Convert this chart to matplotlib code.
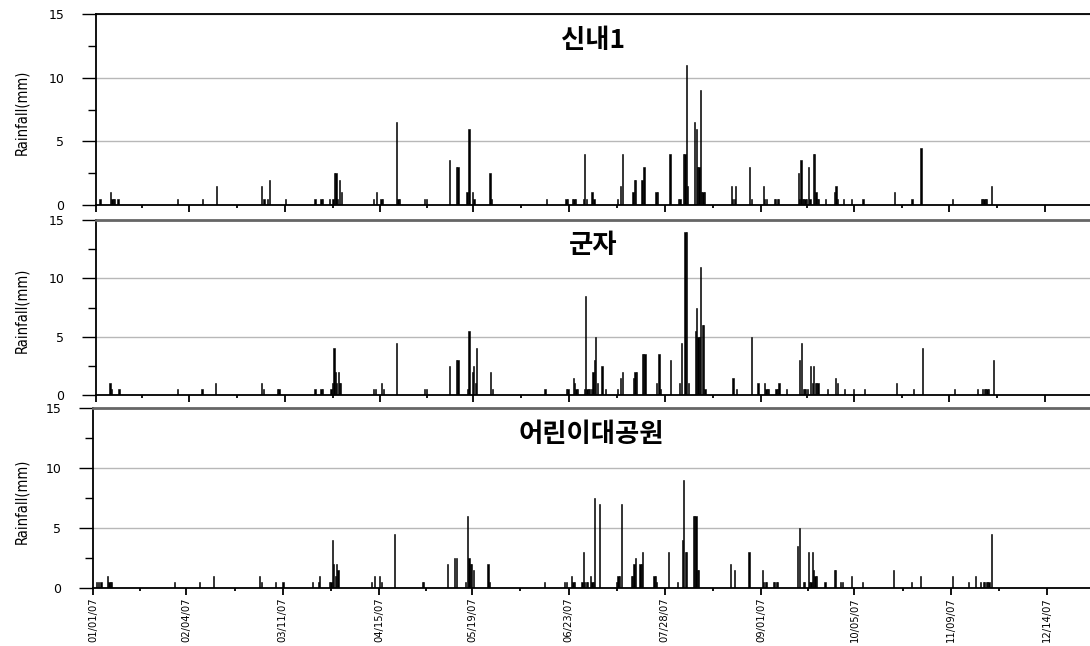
import numpy as np
import matplotlib
matplotlib.use('Agg')
import matplotlib.pyplot as plt
from matplotlib import font_manager
from matplotlib.font_manager import FontProperties
from matplotlib.ticker import FixedLocator

# 관측소 이름
stations = ['신내1', '군자', '어린이대공원']

# 날짜축 눈금 (2007년)
tick_labels = ['01/01/07', '02/04/07', '03/11/07', '04/15/07', '05/19/07', '06/23/07',
               '07/28/07', '09/01/07', '10/05/07', '11/09/07', '12/14/07']
tick_days = [0, 34, 69, 104, 138, 173, 208, 243, 277, 312, 347]   # 1월 1일부터 일수

# 신내1 : 시각(1월1일부터 일수) / 강우량(mm)
sinnae_day = [1.2, 5.1, 5.6, 6.1, 6.6, 7.8, 29.6, 38.8, 43.9, 60.4, 61.2, 62.6, 63.3, 69.1,
              79.8, 82.0, 82.5, 85.2, 86.4, 87.0, 87.5, 88.2, 88.8, 89.5, 101.2, 102.4, 104.0,
              104.5, 109.7, 110.2, 110.7, 120.0, 120.5, 129.1, 131.6, 132.1, 135.4, 136.1, 137.4,
              138.0, 143.8, 144.4, 164.5, 171.6, 172.1, 174.0, 174.5, 175.0, 178.0, 178.5, 179.0,
              181.1, 181.8, 190.4, 191.6, 192.3, 196.1, 196.6, 197.1, 199.4, 200.1, 204.5, 205.0,
              209.6, 212.8, 213.3, 214.6, 215.1, 215.6, 216.1, 218.7, 219.2, 219.7, 220.2, 220.7,
              221.2, 221.7, 222.2, 232.1, 232.6, 233.1, 233.6, 238.8, 239.3, 243.8, 244.3, 244.8,
              247.8, 248.3, 248.8, 249.3, 256.5, 257.0, 257.5, 258.0, 258.5, 259.0, 259.5, 260.3,
              260.8, 262.0, 262.5, 263.0, 263.5, 264.0, 266.5, 269.7, 270.3, 270.8, 273.0, 276.1,
              280.2, 291.8, 298.1, 301.4, 313.0, 323.4, 323.9, 324.4, 324.9, 325.4, 327.1]
sinnae_mm = [0.5, 1.0, 0.5, 0.5, 0.5, 0.5, 0.5, 0.5, 1.5, 1.5, 0.5, 0.5, 2.0, 0.5,
             0.5, 0.5, 0.5, 0.5, 0.5, 2.5, 2.5, 0.5, 2.0, 1.0, 0.5, 1.0, 0.5,
             0.5, 6.5, 0.5, 0.5, 0.5, 0.5, 3.5, 3.0, 3.0, 1.0, 6.0, 1.0,
             0.5, 2.5, 0.5, 0.5, 0.5, 0.5, 0.5, 0.5, 0.5, 0.5, 4.0, 0.5,
             1.0, 0.5, 0.5, 1.5, 4.0, 1.0, 2.0, 2.0, 2.0, 3.0, 1.0, 1.0,
             4.0, 0.5, 0.5, 4.0, 4.0, 11.0, 1.5, 6.5, 6.0, 3.0, 3.0, 9.0,
             1.0, 1.0, 1.0, 1.5, 0.5, 0.5, 1.5, 3.0, 0.5, 1.5, 0.5, 0.5,
             0.5, 0.5, 0.5, 0.5, 2.5, 0.5, 3.5, 0.5, 0.5, 0.5, 0.5, 3.0,
             0.5, 4.0, 4.0, 1.0, 0.5, 0.5, 0.5, 1.0, 1.5, 0.5, 0.5, 0.5,
             0.5, 1.0, 0.5, 4.5, 0.5, 0.5, 0.5, 0.5, 0.5, 0.5, 1.5]

# 군자
gunja_day = [4.9, 5.5, 8.2, 29.5, 38.5, 43.6, 60.4, 61.1, 66.2, 66.7, 79.8, 82.0, 82.5, 85.7,
             86.3, 86.8, 87.3, 87.8, 88.3, 88.8, 89.3, 101.2, 102.0, 104.2, 105.0, 109.7, 120.0,
             120.5, 129.1, 131.6, 132.1, 135.5, 136.1, 137.4, 137.9, 138.4, 138.9, 144.1, 144.6,
             163.9, 171.8, 172.3, 174.3, 174.8, 175.3, 175.8, 178.3, 178.8, 179.3, 179.8, 180.3,
             181.0, 181.5, 182.0, 182.5, 183.0, 184.8, 186.1, 190.4, 191.6, 192.4, 196.3, 196.8,
             197.3, 199.5, 200.0, 200.5, 204.7, 205.6, 206.1, 209.9, 213.1, 213.9, 215.1, 215.6,
             216.4, 218.9, 219.4, 219.9, 220.4, 220.9, 221.4, 221.9, 222.4, 232.7, 233.9, 239.4,
             241.8, 244.2, 244.7, 245.2, 245.7, 248.4, 248.9, 249.5, 252.1, 257.1, 257.6, 258.3,
             258.8, 259.3, 259.8, 261.1, 261.6, 262.2, 262.7, 263.2, 263.7, 267.1, 270.2, 270.8,
             273.5, 276.7, 280.6, 292.4, 298.6, 301.9, 313.5, 322.0, 323.8, 324.5, 325.0, 325.5,
             326.0, 327.8]
gunja_mm = [1.0, 0.5, 0.5, 0.5, 0.5, 1.0, 1.0, 0.5, 0.5, 0.5, 0.5, 0.5, 0.5, 0.5,
            1.0, 4.0, 2.0, 1.0, 2.0, 1.0, 1.0, 0.5, 0.5, 1.0, 0.5, 4.5, 0.5,
            0.5, 2.5, 3.0, 3.0, 0.5, 5.5, 2.0, 2.5, 1.0, 4.0, 2.0, 0.5,
            0.5, 0.5, 0.5, 1.5, 1.0, 0.5, 0.5, 0.5, 8.5, 0.5, 0.5, 0.5,
            0.5, 2.0, 3.0, 5.0, 1.0, 2.5, 0.5, 0.5, 1.5, 2.0, 1.5, 2.0,
            2.0, 3.5, 3.5, 3.5, 1.0, 3.5, 0.5, 3.0, 1.0, 4.5, 14.0, 14.0,
            1.0, 5.5, 7.5, 5.0, 5.0, 11.0, 6.0, 6.0, 0.5, 1.5, 0.5, 5.0,
            1.0, 1.0, 0.5, 0.5, 0.5, 0.5, 0.5, 1.0, 0.5, 3.0, 4.5, 0.5,
            0.5, 0.5, 0.5, 2.5, 1.0, 2.5, 1.0, 1.0, 1.0, 0.5, 1.5, 1.0,
            0.5, 0.5, 0.5, 1.0, 0.5, 4.0, 0.5, 0.5, 0.5, 0.5, 0.5, 0.5,
            0.5, 3.0]

# 어린이대공원
park_day = [1.0, 1.8, 2.7, 5.1, 5.6, 6.1, 6.6, 29.5, 38.6, 43.7, 60.4, 61.0, 66.2, 68.9,
            79.7, 81.7, 82.2, 85.9, 86.4, 86.9, 87.4, 87.9, 88.4, 88.9, 101.0, 102.3, 104.1,
            104.7, 109.5, 119.6, 120.1, 128.8, 131.4, 131.9, 135.4, 135.9, 136.6, 137.1, 137.6,
            138.1, 143.5, 144.0, 164.1, 171.4, 171.9, 173.8, 174.4, 174.9, 177.7, 178.2, 178.7,
            179.2, 179.7, 180.8, 181.3, 181.8, 182.3, 184.1, 190.1, 190.8, 191.3, 191.9, 195.6,
            196.1, 196.6, 197.1, 198.8, 199.3, 199.8, 203.9, 204.4, 204.9, 209.2, 212.4, 214.2,
            214.7, 215.2, 215.7, 218.1, 218.6, 219.1, 219.6, 220.1, 231.7, 233.1, 238.4, 243.3,
            243.8, 244.3, 244.8, 247.3, 247.8, 248.3, 248.8, 256.2, 256.9, 258.2, 258.7, 260.0,
            260.5, 261.0, 261.4, 261.9, 262.4, 262.9, 266.1, 269.4, 269.9, 271.8, 272.3, 275.6,
            279.7, 291.1, 297.6, 300.8, 312.4, 318.2, 320.9, 322.7, 323.7, 324.2, 324.7, 325.2,
            325.7, 326.6]
park_mm = [0.5, 0.5, 0.5, 1.0, 0.5, 0.5, 0.5, 0.5, 0.5, 1.0, 1.0, 0.5, 0.5, 0.5,
           0.5, 0.5, 1.0, 0.5, 0.5, 4.0, 2.0, 1.0, 2.0, 1.5, 0.5, 1.0, 1.0,
           0.5, 4.5, 0.5, 0.5, 2.0, 2.5, 2.5, 0.5, 6.0, 2.5, 2.0, 2.0,
           1.5, 2.0, 0.5, 0.5, 0.5, 0.5, 1.0, 0.5, 0.5, 0.5, 3.0, 0.5,
           0.5, 0.5, 1.0, 0.5, 0.5, 7.5, 7.0, 0.5, 1.0, 1.0, 7.0, 1.0,
           1.0, 2.0, 2.5, 2.0, 2.0, 3.0, 1.0, 1.0, 0.5, 3.0, 0.5, 4.0,
           9.0, 3.0, 3.0, 6.0, 6.0, 6.0, 1.5, 1.5, 2.0, 1.5, 3.0, 1.5,
           0.5, 0.5, 0.5, 0.5, 0.5, 0.5, 0.5, 3.5, 5.0, 0.5, 0.5, 3.0,
           0.5, 0.5, 3.0, 1.5, 1.0, 1.0, 0.5, 1.5, 1.5, 0.5, 0.5, 1.0,
           0.5, 1.5, 0.5, 1.0, 1.0, 0.5, 1.0, 0.5, 0.5, 0.5, 0.5, 0.5,
           0.5, 4.5]

all_days = [sinnae_day, gunja_day, park_day]
all_mm = [sinnae_mm, gunja_mm, park_mm]

# 좁은(condensed) 산세리프 글꼴 찾기, 없으면 DejaVu Sans 를 작게
narrow_file = None
narrow_name = ''
for f in font_manager.fontManager.ttflist:
    if 'Serif' in f.name or 'Mono' in f.name:
        continue
    st = str(f.stretch)
    is_narrow = ('Narrow' in f.name or 'Condensed' in f.name
                 or st in ('condensed', 'semi-condensed', 'extra-condensed'))
    if is_narrow and f.style == 'normal' and f.weight in (400, 'normal', 'regular'):
        if narrow_file is None or 'Liberation' in f.name:
            narrow_file = f.fname
            narrow_name = f.name

if 'Liberation' in narrow_name or 'Narrow' in narrow_name:
    xlab_font = FontProperties(fname=narrow_file, size=8.5)
    ylab_font = FontProperties(fname=narrow_file, size=12.4)
elif narrow_file:
    xlab_font = FontProperties(fname=narrow_file, size=8)
    ylab_font = FontProperties(fname=narrow_file, size=10.5)
else:
    xlab_font = FontProperties(family='DejaVu Sans', size=6.6)
    ylab_font = FontProperties(family='DejaVu Sans', size=9.0)

kr_font = ['Noto Sans CJK KR', 'DejaVu Sans']

W, H = 1090, 646
fig = plt.figure(figsize=(W / 100, H / 100), dpi=100)

# 패널 위치 (픽셀: 왼쪽, 위, 아래), x축 오른쪽 끝(일)
panels = [(96, 14, 205, 363.4), (96, 220, 395, 363.4), (93, 408, 588, 362.7)]
top_colors = ['black', '#666666', '#666666']

for i in range(3):
    left, top, bottom, xmax = panels[i]
    ax = fig.add_axes([left / W, 1 - bottom / H, (W - left) / W, (bottom - top) / H])

    ax.bar(all_days[i], all_mm[i], width=0.45, color='black', edgecolor='black',
           linewidth=0.4, align='edge', zorder=3)

    ax.set_xlim(0, xmax)
    ax.set_ylim(0, 15)

    # y축
    ax.set_yticks([0, 5, 10, 15])
    ax.set_yticklabels(['0', '5', '10', '15'])
    ax.yaxis.set_minor_locator(FixedLocator([2.5, 7.5, 12.5]))
    ax.tick_params(axis='y', which='major', direction='out', length=10, width=1,
                   pad=13, labelsize=9)
    ax.tick_params(axis='y', which='minor', direction='out', length=6, width=1)
    ax.yaxis.grid(True, color='#b8b8b8', linewidth=1, zorder=0)
    ax.set_axisbelow(True)

    # x축 (날짜)
    ax.set_xticks(tick_days)
    minor_days = [(tick_days[k] + tick_days[k + 1]) / 2 for k in range(len(tick_days) - 1)]
    ax.xaxis.set_minor_locator(FixedLocator(minor_days))
    ax.tick_params(axis='x', which='major', direction='out', length=5, width=1.3, pad=2)
    ax.tick_params(axis='x', which='minor', direction='out', length=2.5, width=1.3)
    if i == 2:
        ax.set_xticklabels(tick_labels, rotation=90, fontproperties=xlab_font, va='top')
    else:
        ax.set_xticklabels([])

    ax.spines['right'].set_visible(False)
    ax.spines['left'].set_linewidth(1.3)
    ax.spines['bottom'].set_linewidth(1.3)
    ax.spines['top'].set_color(top_colors[i])
    ax.spines['top'].set_linewidth(1.3 if i == 0 else 2)

    # 관측소 이름
    ax.text(0.5, 1 - 26 / (bottom - top), stations[i], transform=ax.transAxes,
            ha='center', va='center', fontsize=19, fontweight='bold', family=kr_font)

    # y축 제목
    fig.text(22 / W, 1 - ((top + bottom) / 2 + 3) / H, 'Rainfall(mm)', rotation=90,
             ha='center', va='center', fontproperties=ylab_font)

fig.savefig('out.png', dpi=100)
